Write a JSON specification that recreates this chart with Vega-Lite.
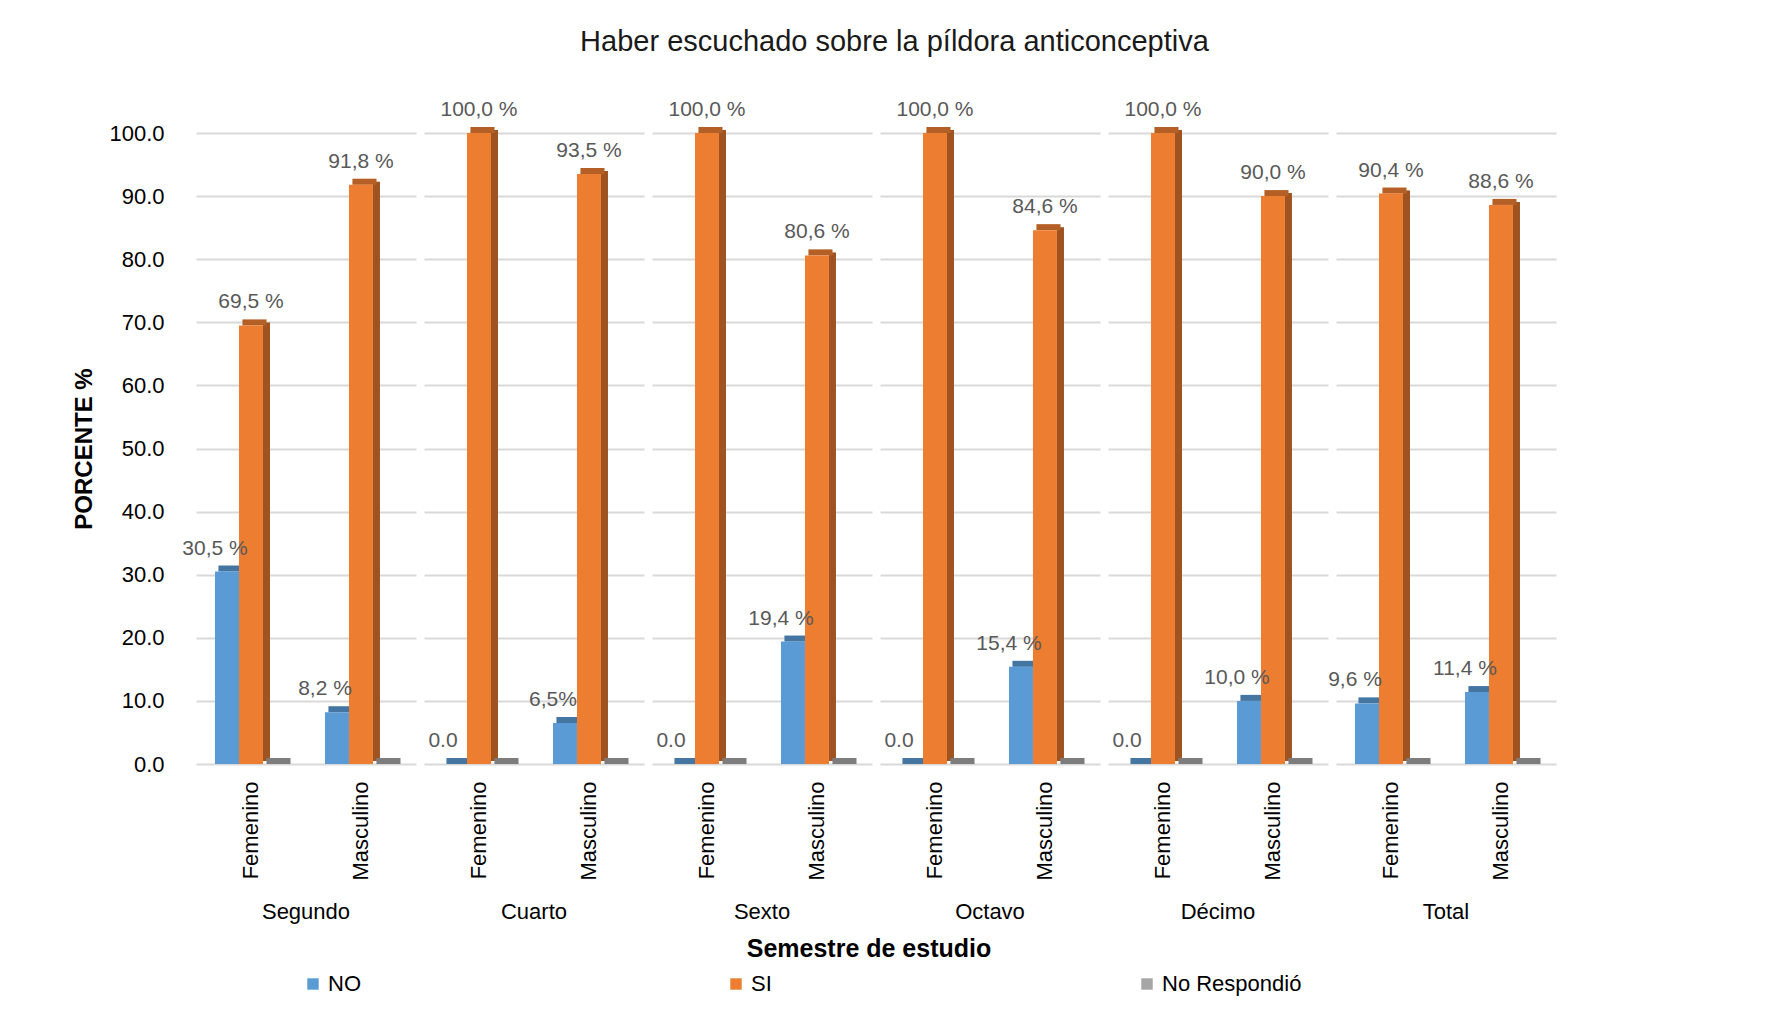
{
  "$schema": "https://vega.github.io/schema/vega-lite/v6.json",
  "padding": {"left": 72, "top": 28, "right": 5, "bottom": 5},
  "background": "white",
  "title": {"text": "Haber escuchado sobre la píldora anticonceptiva", "fontSize": 29, "fontWeight": "normal", "color": "#1a1a1a", "font": "Liberation Sans", "anchor": "middle", "offset": 42, "dx": 80},
  "data": {"values": [
    {"semestre": "Segundo", "genero": "Femenino", "serie": "NO", "valor": 30.5, "etiqueta": "30,5 %"},
    {"semestre": "Segundo", "genero": "Femenino", "serie": "SI", "valor": 69.5, "etiqueta": "69,5 %"},
    {"semestre": "Segundo", "genero": "Femenino", "serie": "No Respondió", "valor": 0, "etiqueta": ""},
    {"semestre": "Segundo", "genero": "Masculino", "serie": "NO", "valor": 8.2, "etiqueta": "8,2 %"},
    {"semestre": "Segundo", "genero": "Masculino", "serie": "SI", "valor": 91.8, "etiqueta": "91,8 %"},
    {"semestre": "Segundo", "genero": "Masculino", "serie": "No Respondió", "valor": 0, "etiqueta": ""},
    {"semestre": "Cuarto", "genero": "Femenino", "serie": "NO", "valor": 0, "etiqueta": "0.0"},
    {"semestre": "Cuarto", "genero": "Femenino", "serie": "SI", "valor": 100, "etiqueta": "100,0 %"},
    {"semestre": "Cuarto", "genero": "Femenino", "serie": "No Respondió", "valor": 0, "etiqueta": ""},
    {"semestre": "Cuarto", "genero": "Masculino", "serie": "NO", "valor": 6.5, "etiqueta": "6,5%"},
    {"semestre": "Cuarto", "genero": "Masculino", "serie": "SI", "valor": 93.5, "etiqueta": "93,5 %"},
    {"semestre": "Cuarto", "genero": "Masculino", "serie": "No Respondió", "valor": 0, "etiqueta": ""},
    {"semestre": "Sexto", "genero": "Femenino", "serie": "NO", "valor": 0, "etiqueta": "0.0"},
    {"semestre": "Sexto", "genero": "Femenino", "serie": "SI", "valor": 100, "etiqueta": "100,0 %"},
    {"semestre": "Sexto", "genero": "Femenino", "serie": "No Respondió", "valor": 0, "etiqueta": ""},
    {"semestre": "Sexto", "genero": "Masculino", "serie": "NO", "valor": 19.4, "etiqueta": "19,4 %"},
    {"semestre": "Sexto", "genero": "Masculino", "serie": "SI", "valor": 80.6, "etiqueta": "80,6 %"},
    {"semestre": "Sexto", "genero": "Masculino", "serie": "No Respondió", "valor": 0, "etiqueta": ""},
    {"semestre": "Octavo", "genero": "Femenino", "serie": "NO", "valor": 0, "etiqueta": "0.0"},
    {"semestre": "Octavo", "genero": "Femenino", "serie": "SI", "valor": 100, "etiqueta": "100,0 %"},
    {"semestre": "Octavo", "genero": "Femenino", "serie": "No Respondió", "valor": 0, "etiqueta": ""},
    {"semestre": "Octavo", "genero": "Masculino", "serie": "NO", "valor": 15.4, "etiqueta": "15,4 %"},
    {"semestre": "Octavo", "genero": "Masculino", "serie": "SI", "valor": 84.6, "etiqueta": "84,6 %"},
    {"semestre": "Octavo", "genero": "Masculino", "serie": "No Respondió", "valor": 0, "etiqueta": ""},
    {"semestre": "Décimo", "genero": "Femenino", "serie": "NO", "valor": 0, "etiqueta": "0.0"},
    {"semestre": "Décimo", "genero": "Femenino", "serie": "SI", "valor": 100, "etiqueta": "100,0 %"},
    {"semestre": "Décimo", "genero": "Femenino", "serie": "No Respondió", "valor": 0, "etiqueta": ""},
    {"semestre": "Décimo", "genero": "Masculino", "serie": "NO", "valor": 10.0, "etiqueta": "10,0 %"},
    {"semestre": "Décimo", "genero": "Masculino", "serie": "SI", "valor": 90.0, "etiqueta": "90,0 %"},
    {"semestre": "Décimo", "genero": "Masculino", "serie": "No Respondió", "valor": 0, "etiqueta": ""},
    {"semestre": "Total", "genero": "Femenino", "serie": "NO", "valor": 9.6, "etiqueta": "9,6 %"},
    {"semestre": "Total", "genero": "Femenino", "serie": "SI", "valor": 90.4, "etiqueta": "90,4 %"},
    {"semestre": "Total", "genero": "Femenino", "serie": "No Respondió", "valor": 0, "etiqueta": ""},
    {"semestre": "Total", "genero": "Masculino", "serie": "NO", "valor": 11.4, "etiqueta": "11,4 %"},
    {"semestre": "Total", "genero": "Masculino", "serie": "SI", "valor": 88.6, "etiqueta": "88,6 %"},
    {"semestre": "Total", "genero": "Masculino", "serie": "No Respondió", "valor": 0, "etiqueta": ""}
  ]},
  "facet": {
    "column": {
      "field": "semestre", "type": "nominal",
      "sort": ["Segundo", "Cuarto", "Sexto", "Octavo", "Décimo", "Total"],
      "title": "Semestre de estudio",
      "header": {"labelOrient": "bottom", "titleOrient": "bottom", "labelFontSize": 22, "labelColor": "#000000", "labelFont": "Liberation Sans", "labelPadding": 22, "titleFontSize": 25, "titleFontWeight": "bold", "titleColor": "#000000", "titleFont": "Liberation Sans", "titlePadding": 3}
    }
  },
  "spacing": 0,
  "spec": {
    "width": 220,
    "height": 631,
    "layer": [
      {
        "mark": {"type": "bar", "width": 7, "yOffset": -3, "opacity": 1},
        "encoding": {
          "x": {"field": "genero", "type": "nominal", "scale": {"paddingInner": 0.345, "paddingOuter": 0.1727}},
          "xOffset": {"field": "serie", "type": "nominal", "scale": {"domain": ["NO", "SI", "No Respondió"], "range": [15.5, 87.5], "paddingInner": 0, "paddingOuter": 0}},
          "y": {"field": "valor", "type": "quantitative"},
          "color": {"field": "serie", "type": "nominal"}
        }
      },
      {
        "mark": {"type": "bar", "width": 7, "yOffset": -3, "color": "#000000", "opacity": 0.33},
        "encoding": {
          "x": {"field": "genero", "type": "nominal"},
          "xOffset": {"field": "serie", "type": "nominal", "scale": {"domain": ["NO", "SI", "No Respondió"], "range": [15.5, 87.5], "paddingInner": 0, "paddingOuter": 0}},
          "y": {"field": "valor", "type": "quantitative"}
        }
      },
      {
        "mark": {"type": "tick", "thickness": 6, "size": 24, "yOffset": -3, "opacity": 1},
        "encoding": {
          "x": {"field": "genero", "type": "nominal"},
          "xOffset": {"field": "serie", "type": "nominal", "scale": {"domain": ["NO", "SI", "No Respondió"], "range": [3.5, 75.5], "paddingInner": 0, "paddingOuter": 0}},
          "y": {"field": "valor", "type": "quantitative"},
          "color": {"field": "serie", "type": "nominal"}
        }
      },
      {
        "mark": {"type": "tick", "thickness": 6, "size": 24, "yOffset": -3, "color": "#000000", "opacity": 0.24},
        "encoding": {
          "x": {"field": "genero", "type": "nominal"},
          "xOffset": {"field": "serie", "type": "nominal", "scale": {"domain": ["NO", "SI", "No Respondió"], "range": [3.5, 75.5], "paddingInner": 0, "paddingOuter": 0}},
          "y": {"field": "valor", "type": "quantitative"}
        }
      },
      {
        "mark": {"type": "bar", "width": 24, "opacity": 1},
        "encoding": {
          "x": {"field": "genero", "type": "nominal", "title": null,
            "axis": {"labelAngle": -90, "labelAlign": "right", "labelBaseline": "middle", "labelFontSize": 22, "labelColor": "#000000", "labelPadding": 17, "ticks": false, "domain": false}},
          "xOffset": {"field": "serie", "type": "nominal", "scale": {"domain": ["NO", "SI", "No Respondió"], "range": [0, 72], "paddingInner": 0, "paddingOuter": 0}},
          "y": {"field": "valor", "type": "quantitative", "scale": {"domain": [0, 100]}, "title": "PORCENTE %",
            "axis": {"values": [0, 10, 20, 30, 40, 50, 60, 70, 80, 90, 100], "format": ".1f", "labelFontSize": 22, "labelColor": "#000000", "labelPadding": 18, "ticks": false, "domain": false, "titleFontSize": 24, "titleFontWeight": "bold", "titleColor": "#000000", "titlePadding": 12, "gridColor": "#D9D9D9", "gridWidth": 2}},
          "color": {"field": "serie", "type": "nominal", "title": null,
            "scale": {"domain": ["NO", "SI", "No Respondió"], "range": ["#5B9BD5", "#ED7D31", "#A5A5A5"]},
            "legend": {"orient": "none", "legendX": 106, "legendY": 840, "direction": "horizontal", "symbolType": "square", "symbolSize": 130, "symbolStrokeWidth": 0, "symbolOpacity": 1, "labelFontSize": 22, "labelColor": "#000000", "columnPadding": 364, "labelOffset": 4}}
        }
      },
      {
        "transform": [{"filter": "datum.serie != 'No Respondió'"}],
        "mark": {"type": "text", "dy": -13, "baseline": "bottom", "fontSize": 21, "color": "#595959"},
        "encoding": {
          "x": {"field": "genero", "type": "nominal"},
          "xOffset": {"field": "serie", "type": "nominal", "scale": {"domain": ["NO", "SI", "No Respondió"], "range": [0, 72], "paddingInner": 0, "paddingOuter": 0}},
          "y": {"field": "valor", "type": "quantitative"},
          "text": {"field": "etiqueta"}
        }
      }
    ],
    "resolve": {"scale": {"xOffset": "independent"}}
  },
  "config": {
    "font": "Liberation Sans",
    "view": {"stroke": null},
    "axis": {"labelFont": "Liberation Sans", "titleFont": "Liberation Sans"},
    "legend": {"labelFont": "Liberation Sans"}
  }
}
